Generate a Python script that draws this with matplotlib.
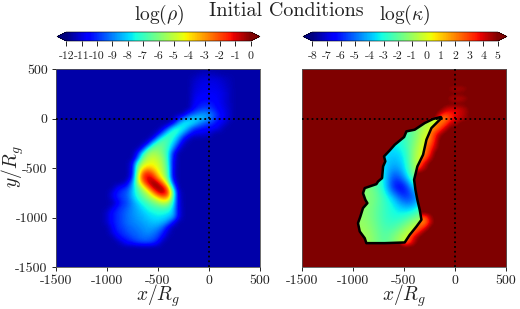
"""Initial conditions: log density and log opacity maps, read by eye from the figure."""

import matplotlib

matplotlib.use("Agg")
import matplotlib.pyplot as plt
import numpy as np
from matplotlib.patches import Polygon

plt.rcParams["mathtext.fontset"] = "cm"

GRID_STEP = 50
X_GRID = np.arange(-1500, 501, GRID_STEP)
Y_GRID = np.arange(500, -1501, -GRID_STEP)

RHO_BACKGROUND = -11.55
KAPPA_BACKGROUND = 5.2

# y: (first x, values every 50 units)
RHO_ROWS = {
    450: (-100, [-11.4, -11.3, -11.3, -11.4, -11.5]),
    400: (-150, [-11.3, -11.1, -11.0, -11.0, -11.0, -11.1, -11.3, -11.4]),
    350: (-150, [-11.2, -11.0, -10.9, -10.9, -10.9, -11.0, -11.2, -11.4]),
    300: (-150, [-11.1, -10.9, -10.8, -10.8, -10.8, -10.9, -11.1, -11.3]),
    250: (-150, [-11.0, -10.8, -10.7, -10.7, -10.7, -10.8, -11.0, -11.3]),
    200: (-150, [-10.9, -10.6, -10.5, -10.5, -10.6, -10.8, -11.0, -11.3]),
    150: (-150, [-10.8, -10.4, -10.2, -10.2, -10.4, -10.7, -11.0, -11.3]),
    100: (-150, [-10.5, -10.0, -9.8, -9.8, -10.2, -10.6, -10.9, -11.2]),
    50: (-200, [-10.0, -9.5, -9.0, -8.8, -9.0, -9.6, -10.3, -10.8, -11.2]),
    0: (-300, [-10.5, -9.0, -8.4, -8.0, -8.0, -8.3, -8.8, -9.6, -10.3, -10.8, -11.2]),
    -50: (-350, [-10.5, -8.5, -7.6, -7.6, -8.0, -8.8, -9.5, -9.8, -10.2, -10.7, -11.0]),
    -100: (-450, [-11.0, -9.4, -7.5, -7.2, -7.6, -8.6, -9.8, -10.2, -10.4, -10.5, -10.7, -11.0]),
    -150: (-500, [-11.0, -9.0, -7.3, -7.0, -7.6, -8.8, -10.0, -10.7, -10.8, -10.9, -11.0]),
    -200: (-550, [-11.0, -8.4, -7.0, -6.8, -7.4, -8.6, -10.3, -11.2]),
    -250: (-600, [-10.8, -7.8, -6.6, -6.4, -7.0, -8.0, -9.6, -11.2]),
    -300: (-650, [-10.5, -7.4, -6.2, -6.0, -6.4, -7.2, -8.8, -10.8]),
    -350: (-700, [-10.5, -7.5, -5.8, -5.4, -5.6, -6.2, -7.4, -10.2]),
    -400: (-700, [-9.5, -6.2, -5.2, -4.8, -5.2, -5.8, -7.4, -10.5]),
    -450: (-750, [-10.8, -7.0, -5.2, -4.6, -4.4, -4.8, -5.6, -7.2, -10.8]),
    -500: (-750, [-10.5, -6.0, -4.2, -3.4, -3.8, -4.6, -5.4, -7.0, -10.8]),
    -550: (-750, [-10.5, -5.6, -2.4, -1.4, -2.4, -4.0, -5.2, -6.8, -11.0]),
    -600: (-750, [-10.0, -5.0, -1.8, -0.8, -1.0, -3.0, -4.6, -6.6, -10.8]),
    -650: (-800, [-10.8, -8.8, -5.6, -3.0, -1.0, 0.0, -0.6, -2.8, -5.4, -10.0]),
    -700: (-900, [-10.8, -10.2, -9.8, -8.4, -6.6, -5.0, -3.0, -0.8, 0.0, -0.5, -3.0, -8.0]),
    -750: (-950, [-11.0, -10.2, -9.8, -9.4, -8.2, -7.0, -6.0, -5.0, -3.2, -1.0, -0.4, -1.8, -6.5, -11.0]),
    -800: (-950, [-11.0, -10.2, -9.8, -9.4, -8.4, -7.4, -6.6, -5.8, -5.0, -4.0, -2.8, -3.2, -7.0, -11.0]),
    -850: (-900, [-10.8, -10.0, -9.6, -8.8, -8.0, -7.4, -6.8, -6.2, -5.6, -5.0, -5.4, -7.4, -10.8]),
    -900: (-950, [-11.0, -10.2, -9.8, -9.4, -8.8, -8.4, -7.8, -7.4, -7.0, -6.8, -6.6, -6.8, -8.0, -10.8]),
    -950: (-1000, [-11.2, -10.4, -10.0, -9.6, -9.2, -8.8, -8.5, -8.2, -7.8, -7.6, -7.4, -7.4, -7.6, -8.2, -10.6]),
    -1000: (-1000, [-11.2, -10.4, -10.0, -9.6, -9.2, -8.9, -8.6, -8.4, -8.1, -7.9, -7.8, -7.9, -8.2, -8.6, -10.8]),
    -1050: (-1000, [-11.2, -10.4, -10.0, -9.6, -9.2, -9.0, -8.8, -8.6, -8.4, -8.2, -8.2, -8.4, -9.0, -10.6]),
    -1100: (-950, [-10.8, -10.0, -9.8, -9.4, -9.2, -9.0, -8.8, -8.6, -8.6, -8.8, -9.4, -10.8]),
    -1150: (-950, [-11.0, -10.2, -10.0, -9.6, -9.4, -9.2, -9.0, -8.8, -9.0, -9.4, -10.2, -11.2]),
    -1200: (-900, [-10.8, -10.2, -10.0, -9.6, -9.4, -9.2, -9.2, -9.4, -9.8, -10.8]),
    -1250: (-850, [-11.0, -10.4, -10.2, -9.8, -9.6, -9.6, -9.8, -10.6]),
}

# opacity outside the black contour (halo and the orange rim)
KAPPA_ROWS = {
    300: (-50, [4.6, 4.4, 4.4, 4.7]),
    200: (-50, [4.4, 4.2, 4.2, 4.6]),
    100: (-100, [4.4, 4.0, 4.0, 4.2, 4.6]),
    50: (-150, [4.2, 3.2, 3.5, 3.8, 4.2, 4.6]),
    0: (-150, [2.0, 2.0, 3.2, 3.9, 4.3, 4.7]),
    -50: (-250, [2.0, 2.0, 2.0, 3.0, 4.2, 4.5]),
    -100: (-250, [1.5, 2.0, 3.0, 4.2]),
    -150: (-300, [1.5, 2.0, 3.2, 4.4]),
    -200: (-300, [1.5, 2.0, 3.6]),
    -250: (-300, [2.0, 2.4, 4.0]),
    -300: (-350, [2.0, 2.0, 3.0, 4.4]),
    -350: (-350, [2.0, 2.0, 3.4]),
    -400: (-400, [2.0, 2.0, 2.6, 4.2]),
    -450: (-400, [2.0, 2.6, 4.0]),
    -500: (-400, [2.0, 3.4, 4.6]),
    -1000: (-350, [2.5, 2.4, 4.4]),
    -1050: (-350, [2.0, 2.0, 4.0]),
    -1100: (-400, [2.0, 2.4, 3.6]),
    -1150: (-450, [2.0, 2.6, 4.0]),
    -1200: (-500, [2.0, 2.6, 4.2]),
    -1250: (-500, [2.4, 3.0, 4.6]),
}

# opacity inside the contour, columns x = -1000 ... -100, rows y = 0 ... -1300
INNER_X = [-1000, -900, -800, -700, -600, -500, -400, -300, -200, -100]
INNER_Y = [0, -100, -200, -300, -400, -500, -600, -700, -800, -900, -1000, -1100, -1200, -1300]
KAPPA_INNER = [
    [-2.5, -2.5, -2.5, -2.5, -2.5, -2.5, -2.0, -1.2, -0.3, 0.3],
    [-2.5, -2.5, -2.5, -2.5, -2.5, -2.5, -1.8, -0.6, 0.3, 0.4],
    [-2.5, -2.5, -2.5, -3.0, -3.0, -2.6, -1.8, 0.1, 0.4, 0.4],
    [-2.5, -2.5, -3.0, -3.3, -3.5, -3.0, -1.2, 0.3, 0.4, 0.4],
    [-2.5, -2.5, -3.0, -3.5, -4.0, -3.5, -0.8, 0.3, 0.4, 0.4],
    [-2.5, -2.5, -3.0, -3.5, -4.5, -3.8, -0.8, 0.3, 0.3, 0.3],
    [-1.8, -1.8, -2.3, -3.0, -6.0, -4.5, -1.5, -0.2, 0.3, 0.3],
    [-1.2, -1.2, -1.7, -3.0, -6.5, -7.0, -3.5, -1.5, 0.3, 0.3],
    [-1.2, -1.2, -1.5, -2.5, -3.8, -6.0, -5.5, -3.0, 0.3, 0.3],
    [-1.2, -1.2, -1.7, -2.5, -3.2, -4.0, -4.0, -2.0, 0.3, 0.3],
    [-1.2, -1.2, -1.7, -2.6, -3.0, -2.8, -1.8, -0.8, 0.3, 0.3],
    [-1.0, -1.0, -1.5, -2.4, -2.4, -1.5, -0.3, 0.3, 0.3, 0.3],
    [-0.8, -0.8, -1.3, -2.2, -1.5, -0.3, 0.3, 0.3, 0.3, 0.3],
    [-0.8, -0.8, -1.3, -2.2, -1.5, -0.3, 0.3, 0.3, 0.3, 0.3],
]

# black contour
CONTOUR_X = [-140, -215, -297, -395, -476, -499, -591, -640, -696, -683, -705, -715, -754,
             -771, -885, -902, -879, -859, -902, -928, -951, -934, -885, -869, -689, -493,
             -444, -378, -329, -346, -369, -388, -401, -369, -313, -280, -231, -133]
CONTOUR_Y = [15, -5, -46, -113, -130, -187, -265, -322, -383, -433, -484, -602, -636,
             -663, -703, -754, -821, -855, -905, -990, -1057, -1141, -1209, -1259, -1259, -1252,
             -1175, -1091, -1023, -922, -821, -720, -619, -484, -366, -214, -96, 5]

RHO_TICKS = list(range(-12, 1))
KAPPA_TICKS = list(range(-8, 6))
AXIS_TICKS = [-1500, -1000, -500, 0, 500]

W, H = 520, 309
TEXT_GREY = "#222222"


def rows_to_grid(rows, background):
    grid = np.full((len(Y_GRID), len(X_GRID)), float(background))
    for y, (x0, values) in rows.items():
        i = int((500 - y) / GRID_STEP)
        j = int((x0 + 1500) / GRID_STEP)
        grid[i, j : j + len(values)] = values
    return grid


def px_axes(fig, left, right, top, bottom):
    return fig.add_axes([left / W, 1 - bottom / H, (right - left) / W, (bottom - top) / H])


def draw_field(ax, grid, vmin, vmax):
    extent = [X_GRID[0] - 25, X_GRID[-1] + 25, Y_GRID[-1] - 25, Y_GRID[0] + 25]
    return ax.imshow(grid, cmap="jet", vmin=vmin, vmax=vmax, extent=extent,
                     interpolation="bicubic", aspect="auto", origin="upper")


def finish_panel(ax, show_y):
    ax.set_xlim(-1500, 500)
    ax.set_ylim(-1500, 500)
    ax.axvline(0, color="k", ls=":", lw=1.3, zorder=5)
    ax.axhline(0, color="k", ls=":", lw=1.3, zorder=5)
    ax.set_xticks(AXIS_TICKS)
    ax.set_xticklabels([str(t) for t in AXIS_TICKS], fontfamily="cmr10", fontsize=10, color=TEXT_GREY)
    ax.tick_params(length=3, width=0.6, pad=3)
    if show_y:
        ax.set_yticks(AXIS_TICKS)
        ax.set_yticklabels([str(t) for t in AXIS_TICKS], fontfamily="cmr10", fontsize=10, color=TEXT_GREY)
    else:
        ax.set_yticks([])
    for spine in ax.spines.values():
        spine.set_linewidth(0.6)
        spine.set_color("#555555")


def add_colorbar(fig, im, cax, ticks):
    cb = fig.colorbar(im, cax=cax, orientation="horizontal", extend="both", extendfrac=0.05)
    cb.set_ticks(ticks)
    cb.set_ticklabels([str(t) for t in ticks], fontfamily="cmr10", fontsize=8.5, color=TEXT_GREY)
    cb.ax.tick_params(length=3.5, width=0.6, pad=4)
    cb.outline.set_linewidth(0.4)
    return cb


def main():
    fig = plt.figure(figsize=(W / 100, H / 100), dpi=100)

    ax_rho = px_axes(fig, 56, 260, 69, 267)
    im_rho = draw_field(ax_rho, rows_to_grid(RHO_ROWS, RHO_BACKGROUND), -12, 0)
    finish_panel(ax_rho, True)

    ax_kap = px_axes(fig, 302, 506, 69, 267)
    im_kap = draw_field(ax_kap, rows_to_grid(KAPPA_ROWS, KAPPA_BACKGROUND), -8, 5)

    inner = ax_kap.imshow(
        np.array(KAPPA_INNER), cmap="jet", vmin=-8, vmax=5, interpolation="bicubic", aspect="auto",
        extent=[INNER_X[0] - 50, INNER_X[-1] + 50, INNER_Y[-1] - 50, INNER_Y[0] + 50], origin="upper",
    )
    outline = Polygon(np.column_stack([CONTOUR_X, CONTOUR_Y]), closed=True, fill=False,
                      edgecolor="k", lw=1.8, zorder=4, joinstyle="round")
    ax_kap.add_patch(outline)
    inner.set_clip_path(outline)
    finish_panel(ax_kap, False)

    add_colorbar(fig, im_rho, px_axes(fig, 57, 260, 32, 41), RHO_TICKS)
    add_colorbar(fig, im_kap, px_axes(fig, 303, 507, 32, 41), KAPPA_TICKS)

    fig.text(286 / W, 1 - 11 / H, "Initial Conditions", fontfamily="cmr10", fontsize=14.5,
             ha="center", va="center", color=TEXT_GREY)
    fig.text(159 / W, 1 - 15 / H, r"$\log(\rho)$", fontsize=14, ha="center", va="center", color=TEXT_GREY)
    fig.text(405 / W, 1 - 15 / H, r"$\log(\kappa)$", fontsize=14, ha="center", va="center", color=TEXT_GREY)
    fig.text(158 / W, 1 - 296 / H, r"$x/R_g$", fontsize=14, ha="center", va="center", color=TEXT_GREY)
    fig.text(404 / W, 1 - 296 / H, r"$x/R_g$", fontsize=14, ha="center", va="center", color=TEXT_GREY)
    fig.text(13 / W, 1 - 167 / H, r"$y/R_g$", fontsize=14, rotation=90, ha="center", va="center", color=TEXT_GREY)

    fig.savefig("out.png", dpi=100)
    plt.close(fig)


if __name__ == "__main__":
    main()
